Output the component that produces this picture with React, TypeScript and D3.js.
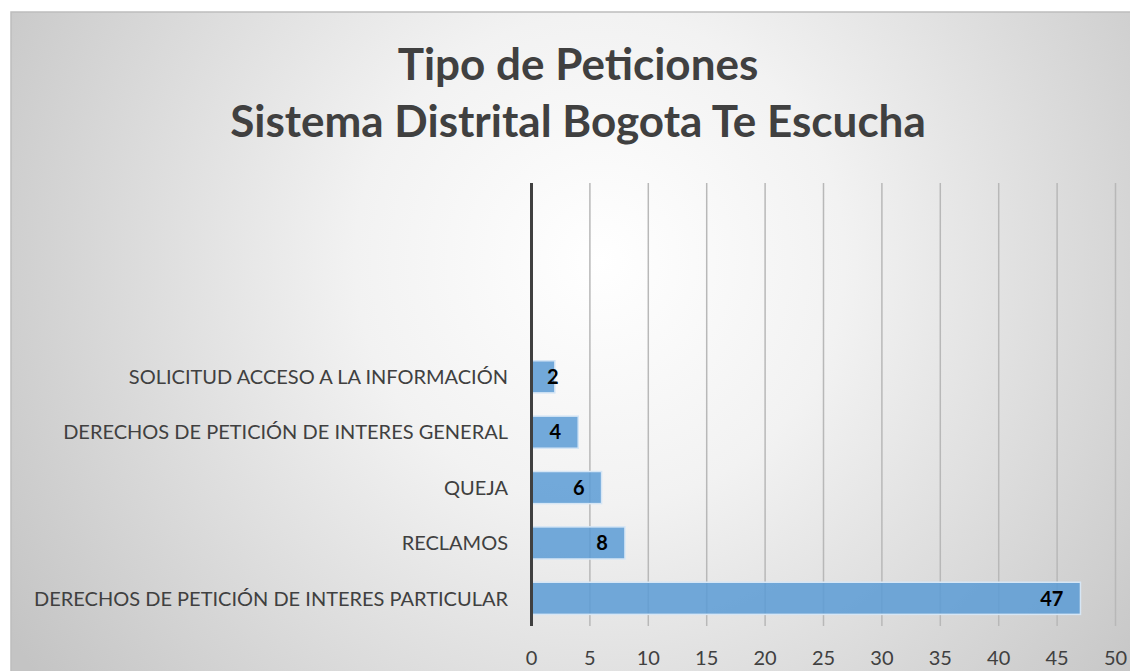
import { useRef, useEffect } from 'react';
import * as d3 from 'd3';

const categories = [
  'DERECHOS DE PETICIÓN DE INTERES PARTICULAR',
  'RECLAMOS',
  'QUEJA',
  'DERECHOS DE PETICIÓN DE INTERES GENERAL',
  'SOLICITUD ACCESO A LA INFORMACIÓN',
  '', '', '',
];
const values = [47, 8, 6, 4, 2];
const xTicks = [0, 5, 10, 15, 20, 25, 30, 35, 40, 45, 50];
const titleLines = ['Tipo de Peticiones', 'Sistema Distrital Bogota Te Escucha'];

export default function App() {
  const svgRef = useRef<SVGSVGElement>(null);

  useEffect(() => {
    const w = 1130;
    const h = 671;
    const svg = d3.select(svgRef.current);
    svg.selectAll('*').remove();
    svg.attr('width', w).attr('height', h);

    const defs = svg.append('defs');
    const grad = defs.append('radialGradient')
      .attr('id', 'bg')
      .attr('gradientUnits', 'userSpaceOnUse')
      .attr('cx', 600).attr('cy', 260).attr('r', 700);
    grad.append('stop').attr('offset', '0%').attr('stop-color', '#ffffff');
    grad.append('stop').attr('offset', '35%').attr('stop-color', '#f2f2f2');
    grad.append('stop').attr('offset', '100%').attr('stop-color', '#c4c4c4');

    svg.append('rect').attr('width', w).attr('height', h).attr('fill', '#ffffff');
    svg.append('rect')
      .attr('x', 11).attr('y', 12)
      .attr('width', w + 20).attr('height', h + 20)
      .attr('fill', 'url(#bg)')
      .attr('stroke', '#bdbdbd')
      .attr('stroke-width', 1.5);

    const font = 'Lato, "Open Sans", sans-serif';
    const x = d3.scaleLinear().domain([0, 50]).range([531.5, 1115.5]);
    const y = d3.scaleBand<number>()
      .domain(d3.range(categories.length))
      .range([626, 183])
      .paddingInner(0.42)
      .paddingOuter(0.21);

    // gridlines
    svg.append('g')
      .selectAll('line')
      .data(xTicks.slice(1))
      .join('line')
      .attr('x1', d => x(d)).attr('x2', d => x(d))
      .attr('y1', 183).attr('y2', 626)
      .attr('stroke', '#b8b8b8')
      .attr('stroke-width', 1.5);

    // bars
    svg.append('g')
      .selectAll('rect')
      .data(values)
      .join('rect')
      .attr('x', x(0))
      .attr('y', (d, i) => y(i)!)
      .attr('width', d => x(d) - x(0))
      .attr('height', y.bandwidth())
      .attr('fill', '#5b9bd5')
      .attr('fill-opacity', 0.85)
      .attr('stroke', '#d6e6f5')
      .attr('stroke-width', 1.5);

    // value labels
    svg.append('g')
      .selectAll('text')
      .data(values)
      .join('text')
      .attr('x', d => Math.max(x(d) - 17, x(0) + 27))
      .attr('y', (d, i) => y(i)! + y.bandwidth() / 2)
      .attr('dy', '0.36em')
      .attr('text-anchor', 'end')
      .attr('font-family', font)
      .attr('font-weight', 'bold')
      .attr('font-size', 20)
      .attr('fill', '#000')
      .text(d => d);

    // vertical axis line
    svg.append('line')
      .attr('x1', x(0)).attr('x2', x(0))
      .attr('y1', 183).attr('y2', 626)
      .attr('stroke', '#404040')
      .attr('stroke-width', 3);

    // category labels
    svg.append('g')
      .selectAll('text')
      .data(categories)
      .join('text')
      .attr('x', 508)
      .attr('y', (d, i) => y(i)! + y.bandwidth() / 2)
      .attr('dy', '0.36em')
      .attr('text-anchor', 'end')
      .attr('font-family', font)
      .attr('font-size', 20)
      .attr('fill', '#404040')
      .text(d => d);

    // x tick labels
    svg.append('g')
      .selectAll('text')
      .data(xTicks)
      .join('text')
      .attr('x', d => x(d))
      .attr('y', 665)
      .attr('text-anchor', 'middle')
      .attr('font-family', font)
      .attr('font-size', 20)
      .attr('fill', '#404040')
      .text(d => d);

    // title
    svg.append('g')
      .selectAll('text')
      .data(titleLines)
      .join('text')
      .attr('x', 578)
      .attr('y', (d, i) => 80 + i * 57)
      .attr('text-anchor', 'middle')
      .attr('font-family', font)
      .attr('font-weight', 'bold')
      .attr('font-size', 44)
      .attr('fill', '#404040')
      .text(d => d);
  }, []);

  return <svg ref={svgRef} style={{ position: 'absolute', left: 0, top: 0 }}></svg>;
}
